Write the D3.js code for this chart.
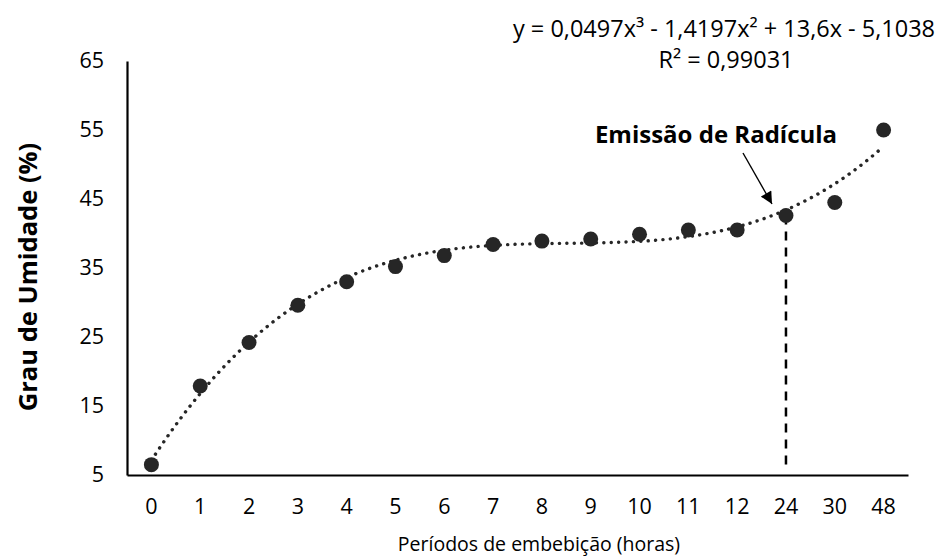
<!DOCTYPE html>
<html>
<head>
<meta charset="utf-8">
<script src="https://cdn.jsdelivr.net/npm/d3@7"></script>
<style>
  body { margin: 0; background: #fff; }
  text { font-family: "Open Sans", sans-serif; fill: #000; }
</style>
</head>
<body>
<div id="chart"></div>
<script>
// data
var periodos = ["0", "1", "2", "3", "4", "5", "6", "7", "8", "9", "10", "11", "12", "24", "30", "48"];
var umidade = [6.5, 17.9, 24.2, 29.6, 33.0, 35.2, 36.8, 38.4, 38.9, 39.2, 39.9, 40.5, 40.5, 42.6, 44.5, 55.0];
var yTicks = [5, 15, 25, 35, 45, 55, 65];
// excel trendline coefficients (x = position 1..16), highest power first
var coef = [0.0497, -1.4197, 13.6, -5.1038];
var eqLabel = "y = 0,0497x³ - 1,4197x² + 13,6x - 5,1038";
var r2Label = "R² = 0,99031";
var marco = "24";

var width = 943, height = 558;
var margin = {top: 61, right: 35, bottom: 83, left: 127};

var svg = d3.select("#chart").append("svg")
  .attr("width", width)
  .attr("height", height);

var x = d3.scaleBand()
  .domain(periodos)
  .range([margin.left, width - margin.right]);

var y = d3.scaleLinear()
  .domain([5, 65])
  .range([height - margin.bottom, margin.top]);

var cx = function(d) { return x(d) + x.bandwidth() / 2; };

// axes
var xAxis = svg.append("g")
  .attr("transform", "translate(0," + (height - margin.bottom) + ")")
  .call(d3.axisBottom(x).tickSize(0).tickPadding(24));
xAxis.select(".domain").attr("stroke", "#000").attr("stroke-width", 2.2);
xAxis.selectAll("text").style("font-size", "21.5px").attr("fill", "#000");

var yAxis = svg.append("g")
  .attr("transform", "translate(" + margin.left + ",0)")
  .call(d3.axisLeft(y).tickValues(yTicks).tickSize(0).tickPadding(23));
yAxis.select(".domain").attr("stroke", "#000").attr("stroke-width", 2.2);
yAxis.selectAll("text").style("font-size", "21.5px").attr("fill", "#000");

// dashed marker for radicle emission
svg.append("line")
  .attr("x1", cx(marco)).attr("x2", cx(marco))
  .attr("y1", y(umidade[periodos.indexOf(marco)]))
  .attr("y2", y(5) - 5)
  .attr("stroke", "#000")
  .attr("stroke-width", 2.5)
  .attr("stroke-dasharray", "9,7");

// polynomial trendline
var poly = function(t) {
  return coef[0] * t * t * t + coef[1] * t * t + coef[2] * t + coef[3];
};
var trend = d3.range(1, periodos.length + 0.001, 0.1);
var tx = d3.scaleLinear().domain([1, periodos.length]).range([cx(periodos[0]), cx(periodos[periodos.length - 1])]);

svg.append("path")
  .datum(trend)
  .attr("fill", "none")
  .attr("stroke", "#262626")
  .attr("stroke-width", 3.4)
  .attr("stroke-linecap", "round")
  .attr("stroke-dasharray", "0.1,7.3")
  .attr("d", d3.line()
    .x(function(t) { return tx(t); })
    .y(function(t) { return y(poly(t)); })
    .curve(d3.curveBasis));

// points
svg.selectAll("circle")
  .data(umidade)
  .enter().append("circle")
  .attr("cx", function(d, i) { return cx(periodos[i]); })
  .attr("cy", function(d) { return y(d); })
  .attr("r", 7.5)
  .attr("fill", "#262626");

// arrow annotation
svg.append("defs").append("marker")
  .attr("id", "seta")
  .attr("viewBox", "0 0 10 10")
  .attr("refX", 10).attr("refY", 5)
  .attr("markerWidth", 13).attr("markerHeight", 12)
  .attr("markerUnits", "userSpaceOnUse")
  .attr("orient", "auto")
  .append("path")
  .attr("d", "M0,0L10,5L0,10z")
  .attr("fill", "#000");

svg.append("line")
  .attr("x1", 743).attr("y1", 153)
  .attr("x2", 772).attr("y2", 204)
  .attr("stroke", "#000")
  .attr("stroke-width", 1.4)
  .attr("marker-end", "url(#seta)");

svg.append("text")
  .attr("x", 716).attr("y", 143)
  .attr("text-anchor", "middle")
  .style("font-size", "24px")
  .style("font-weight", "bold")
  .text("Emissão de Radícula");

// equation
svg.append("text")
  .attr("x", 724).attr("y", 37)
  .attr("text-anchor", "middle")
  .style("font-size", "23.5px")
  .text(eqLabel);
svg.append("text")
  .attr("x", 726).attr("y", 68)
  .attr("text-anchor", "middle")
  .style("font-size", "23.5px")
  .text(r2Label);

// axis titles
svg.append("text")
  .attr("transform", "translate(37,277)rotate(-90)")
  .attr("text-anchor", "middle")
  .style("font-size", "25.5px")
  .style("font-weight", "bold")
  .text("Grau de Umidade (%)");

svg.append("text")
  .attr("x", 539)
  .attr("y", 551)
  .attr("text-anchor", "middle")
  .style("font-size", "19.5px")
  .text("Períodos de embebição (horas)");
</script>
</body>
</html>
